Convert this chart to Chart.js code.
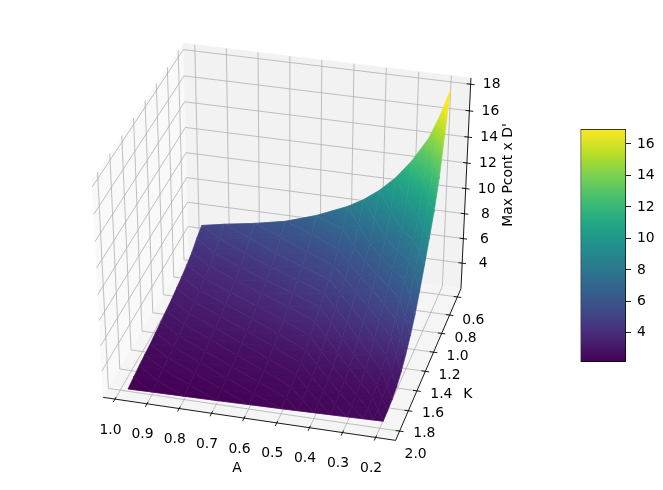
<!DOCTYPE html>
<html>
<head>
<meta charset="utf-8">
<script src="https://cdn.jsdelivr.net/npm/chart.js@4/dist/chart.umd.js"></script>
<style>
  html, body { margin: 0; background: #fff; }
  #wrap { position: relative; width: 663px; height: 490px; }
  canvas { position: absolute; left: 0; top: 0; }
</style>
</head>
<body>
<div id="wrap">
  <canvas id="surface" width="663" height="490"></canvas>
  <canvas id="cbar" width="663" height="490"></canvas>
</div>
<script>
const aValues = [0.975, 0.9, 0.8, 0.7, 0.6, 0.5, 0.45, 0.4, 0.35, 0.3, 0.25, 0.22, 0.19]
const kValues = [0.6, 0.7, 0.8, 0.9, 1.0, 1.1, 1.2, 1.3, 1.4, 1.5, 1.6, 1.7, 1.8, 1.9, 2.0]
// one row per K, one column per A
const zRows = [
  [4.95, 5.3, 5.7, 6.2, 7.0, 8.05, 8.75, 9.65, 10.8, 12.3, 14.2, 15.9, 18.0],
  [4.6, 4.85, 5.2, 5.65, 6.2, 6.95, 7.45, 8.1, 8.9, 10.0, 11.6, 13.2, 15.4],
  [4.15, 4.35, 4.65, 5.0, 5.45, 6.05, 6.4, 6.85, 7.45, 8.3, 9.5, 10.8, 12.7],
  [3.85, 4.0, 4.25, 4.6, 5.0, 5.45, 5.75, 6.1, 6.6, 7.3, 8.3, 9.3, 10.8],
  [3.6, 3.72, 3.95, 4.25, 4.65, 5.05, 5.3, 5.6, 6.0, 6.55, 7.4, 8.2, 9.4],
  [3.4, 3.5, 3.7, 3.95, 4.3, 4.65, 4.85, 5.1, 5.45, 5.9, 6.6, 7.2, 8.0],
  [3.2, 3.28, 3.45, 3.65, 3.95, 4.25, 4.4, 4.6, 4.9, 5.25, 5.8, 6.2, 6.7],
  [3.05, 3.1, 3.22, 3.38, 3.6, 3.85, 4.0, 4.15, 4.35, 4.65, 5.0, 5.22, 5.5],
  [2.9, 2.95, 3.02, 3.12, 3.25, 3.42, 3.52, 3.65, 3.8, 4.0, 4.25, 4.4, 4.6],
  [2.75, 2.78, 2.84, 2.9, 2.98, 3.08, 3.14, 3.22, 3.32, 3.45, 3.6, 3.7, 3.85],
  [2.6, 2.63, 2.66, 2.7, 2.76, 2.82, 2.86, 2.9, 2.96, 3.04, 3.12, 3.17, 3.25],
  [2.5, 2.51, 2.53, 2.56, 2.6, 2.64, 2.66, 2.69, 2.72, 2.76, 2.8, 2.82, 2.85],
  [2.4, 2.4, 2.41, 2.43, 2.45, 2.47, 2.49, 2.51, 2.53, 2.56, 2.59, 2.61, 2.65],
  [2.25, 2.27, 2.29, 2.32, 2.35, 2.38, 2.4, 2.42, 2.44, 2.46, 2.49, 2.51, 2.55],
  [2.1, 2.13, 2.17, 2.21, 2.26, 2.31, 2.34, 2.37, 2.4, 2.43, 2.46, 2.48, 2.5]
]
const aTicks = ['1.0', '0.9', '0.8', '0.7', '0.6', '0.5', '0.4', '0.3', '0.2']
const kTicks = ['0.6', '0.8', '1.0', '1.2', '1.4', '1.6', '1.8', '2.0']
const zTicks = ['4', '6', '8', '10', '12', '14', '16', '18']
const cbTicks = [4, 6, 8, 10, 12, 14, 16]
const viridis = ['#440154', '#482475', '#414487', '#355f8d', '#2a788e', '#21918c', '#22a884', '#44bf70', '#7ad151', '#bddf26', '#fde725']
const vMin = 2.15
const vMax = 16.95

const aLim = [0.14, 1.037]
const kLim = [0.506, 2.09]
const zLim = [1.9, 18.47]

const FONT = '13.9px "DejaVu Sans"'

// view of the box: elevation 35, azimuth 105, camera distance 10
const el = 35 * Math.PI / 180
const az = 105 * Math.PI / 180
const DIST = 10
const n = [Math.cos(el) * Math.cos(az), Math.cos(el) * Math.sin(az), Math.sin(el)]
const u = [-Math.sin(az), Math.cos(az), 0]
const v = [n[1] * u[2] - n[2] * u[1], n[2] * u[0] - n[0] * u[2], n[0] * u[1] - n[1] * u[0]]

function project(a, k, z) {
  const d = [
    (a - aLim[0]) / (aLim[1] - aLim[0]) - 0.5,
    (k - kLim[0]) / (kLim[1] - kLim[0]) - 0.5,
    (z - zLim[0]) / (zLim[1] - zLim[0]) - 0.5
  ]
  const w = DIST - (n[0] * d[0] + n[1] * d[1] + n[2] * d[2])
  return {
    x: 287.1 + 3003 * (u[0] * d[0] + u[1] * d[1]) / w,
    y: 237.6 - 2608 * (v[0] * d[0] + v[1] * d[1] + v[2] * d[2]) / w
  }
}

function hexRgb(h) {
  return [parseInt(h.slice(1, 3), 16), parseInt(h.slice(3, 5), 16), parseInt(h.slice(5, 7), 16)]
}

function cmap(t) {
  t = Math.min(1, Math.max(0, t)) * (viridis.length - 1)
  const i = Math.min(viridis.length - 2, Math.floor(t))
  const c0 = hexRgb(viridis[i])
  const c1 = hexRgb(viridis[i + 1])
  const f = t - i
  return `rgb(${c0.map((c, j) => Math.round(c + (c1[j] - c) * f)).join(',')})`
}

const colorOf = z => cmap((z - vMin) / (vMax - vMin))

const ctx = document.getElementById('surface').getContext('2d')

// filler clips "shape" fills between first and last point, so run left to right
function polygon(pts, fill, stroke, width) {
  let li = 0
  let ri = 0
  pts.forEach((p, i) => {
    if (p.x < pts[li].x) li = i
    if (p.x > pts[ri].x) ri = i
  })
  const loop = []
  for (let i = 0; i <= pts.length; i++) loop.push(pts[(li + i) % pts.length])
  loop.push(pts[ri])
  return { data: loop, showLine: true, fill: 'shape', backgroundColor: fill, borderColor: stroke, borderWidth: width, borderDash: [100000], pointRadius: 0, clip: false }
}

function line(pts, color, width) {
  return { data: pts, showLine: true, fill: false, borderColor: color, borderWidth: width, borderDash: [100000], pointRadius: 0, clip: false }
}

function triangle(p0, p1, p2) {
  const pts = [p0, p1, p2]
  const lo = pts.reduce((m, p) => (p.z < m.z ? p : m))
  const hi = pts.reduce((m, p) => (p.z > m.z ? p : m))
  const det = (p1.x - p0.x) * (p2.y - p0.y) - (p2.x - p0.x) * (p1.y - p0.y)
  let paint = colorOf((p0.z + p1.z + p2.z) / 3)
  if (Math.abs(det) > 1e-6 && hi.z - lo.z > 1e-6) {
    const ga = ((p1.z - p0.z) * (p2.y - p0.y) - (p2.z - p0.z) * (p1.y - p0.y)) / det
    const gb = ((p1.x - p0.x) * (p2.z - p0.z) - (p2.x - p0.x) * (p1.z - p0.z)) / det
    const g2 = ga * ga + gb * gb
    const s = (hi.z - lo.z) / g2
    paint = ctx.createLinearGradient(lo.x, lo.y, lo.x + ga * s, lo.y + gb * s)
    for (let i = 0; i <= 6; i++) paint.addColorStop(i / 6, colorOf(lo.z + (hi.z - lo.z) * i / 6))
  }
  return polygon(pts, paint, paint, 0.6)
}

const layers = []

// panes
const [a0, a1] = aLim
const [k0, k1] = kLim
const [z0, z1] = zLim
layers.push(polygon([project(a1, k0, z0), project(a1, k1, z0), project(a1, k1, z1), project(a1, k0, z1)], '#f9f9f9', '#f9f9f9', 0.5))
layers.push(polygon([project(a0, k0, z0), project(a1, k0, z0), project(a1, k0, z1), project(a0, k0, z1)], '#f2f2f2', '#f2f2f2', 0.5))
layers.push(polygon([project(a0, k0, z0), project(a1, k0, z0), project(a1, k1, z0), project(a0, k1, z0)], '#f5f5f5', '#f5f5f5', 0.5))

// grid
const GRID = '#b0b0b0'
aTicks.map(Number).forEach(a => layers.push(line([project(a, k1, z0), project(a, k0, z0), project(a, k0, z1)], GRID, 0.8)))
kTicks.map(Number).forEach(k => layers.push(line([project(a0, k, z0), project(a1, k, z0), project(a1, k, z1)], GRID, 0.8)))
zTicks.map(Number).forEach(z => layers.push(line([project(a0, k0, z), project(a1, k0, z), project(a1, k1, z)], GRID, 0.8)))

// axis lines and tick marks
layers.push(line([project(a1, k1, z0), project(a0, k1, z0)], '#000', 0.9))
layers.push(line([project(a0, k1, z0), project(a0, k0, z0)], '#000', 0.9))
layers.push(line([project(a0, k0, z0), project(a0, k0, z1)], '#000', 0.9))
aTicks.map(Number).forEach(a => layers.push(line([project(a, k1 - 0.02, z0), project(a, k1 + 0.03, z0)], '#000', 0.9)))
kTicks.map(Number).forEach(k => layers.push(line([project(a0 - 0.012, k, z0), project(a0 + 0.012, k, z0)], '#000', 0.9)))
zTicks.map(Number).forEach(z => layers.push(line([project(a0 - 0.012, k0, z), project(a0 + 0.012, k0, z)], '#000', 0.9)))

// surface, far cells first
const vert = (i, j) => ({ ...project(aValues[i], kValues[j], zRows[j][i]), z: zRows[j][i] })
for (let j = 0; j < kValues.length - 1; j++) {
  for (let i = aValues.length - 2; i >= 0; i--) {
    const p00 = vert(i, j)
    const p10 = vert(i + 1, j)
    const p01 = vert(i, j + 1)
    const p11 = vert(i + 1, j + 1)
    layers.push(triangle(p00, p10, p11))
    layers.push(triangle(p00, p11, p01))
  }
}

const axisText = {
  id: 'axisText',
  afterDatasetsDraw(chart) {
    const c = chart.ctx
    const sx = chart.scales.x
    const sy = chart.scales.y
    const put = (p, dx, dy, text) => c.fillText(text, sx.getPixelForValue(p.x) + dx, sy.getPixelForValue(p.y) + dy)
    c.save()
    c.font = FONT
    c.fillStyle = '#000'
    c.textAlign = 'center'
    c.textBaseline = 'middle'
    aTicks.forEach(t => put(project(+t, k1, z0), -4.5, 31, t))
    kTicks.forEach(t => put(project(a0, +t, z0), 16, 23, t))
    zTicks.forEach(t => put(project(a0, k0, +t), 21, 0.5, t))
    c.fillText('A', 237, 468)
    c.fillText('K', 467.7, 394.3)
    c.translate(508, 175)
    c.rotate(-Math.PI / 2)
    c.fillText("Max Pcont x D'", 0, 0)
    c.restore()
  }
}

new Chart(ctx, {
  type: 'scatter',
  data: { datasets: layers.reverse() },
  options: {
    responsive: false,
    animation: false,
    events: [],
    layout: { padding: 0 },
    plugins: { legend: { display: false }, tooltip: { enabled: false } },
    scales: {
      x: { type: 'linear', display: false, min: 0, max: 663 },
      y: { type: 'linear', display: false, min: 0, max: 490, reverse: true }
    }
  },
  plugins: [axisText]
})

new Chart(document.getElementById('cbar').getContext('2d'), {
  type: 'bar',
  data: {
    labels: [''],
    datasets: [{
      data: [[vMin, vMax]],
      barPercentage: 1,
      categoryPercentage: 1,
      borderColor: '#000',
      borderWidth: 1,
      borderSkipped: false,
      backgroundColor(c) {
        const { chartArea } = c.chart
        if (!chartArea) return viridis[0]
        const g = c.chart.ctx.createLinearGradient(0, chartArea.bottom, 0, chartArea.top)
        viridis.forEach((col, i) => g.addColorStop(i / (viridis.length - 1), col))
        return g
      }
    }]
  },
  options: {
    responsive: false,
    animation: false,
    events: [],
    layout: { padding: { left: 580.5, right: 4, top: 129, bottom: 128 } },
    plugins: { legend: { display: false }, tooltip: { enabled: false } },
    scales: {
      x: { display: false },
      y: {
        position: 'right',
        min: vMin,
        max: vMax,
        afterBuildTicks(scale) { scale.ticks = cbTicks.map(value => ({ value })) },
        afterFit(scale) { scale.width = 33 },
        border: { display: false },
        grid: { drawOnChartArea: false, tickLength: 5, tickColor: '#000', tickWidth: 0.9 },
        ticks: { padding: 6, color: '#000', font: { family: 'DejaVu Sans', size: 13.9 } }
      }
    }
  }
})
</script>
</body>
</html>
